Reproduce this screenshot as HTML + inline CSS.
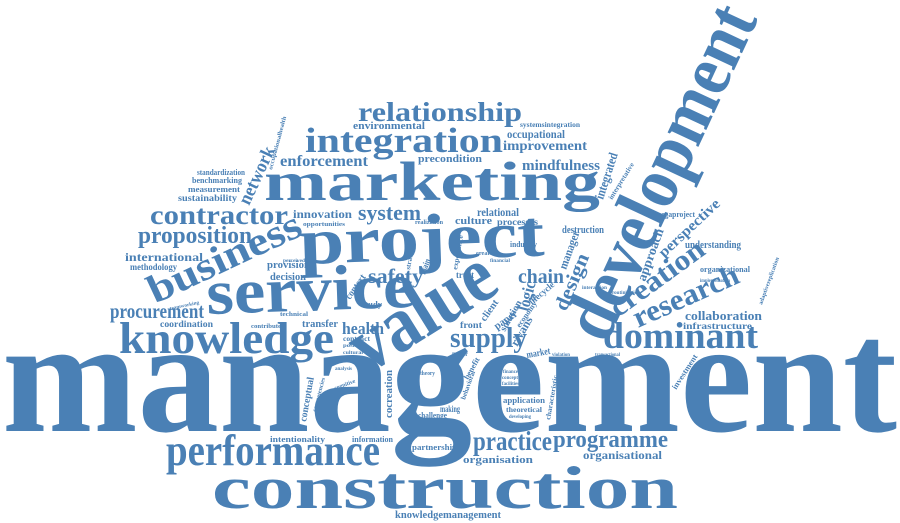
<!DOCTYPE html>
<html><head><meta charset="utf-8"><style>
html,body{margin:0;padding:0;background:#fff;width:900px;height:523px;overflow:hidden}
svg{display:block}
text{font-family:"Liberation Serif",serif;font-weight:bold;fill:#4a80b5}
</style></head><body>
<svg width="900" height="523" viewBox="0 0 900 523">
<text x="2" y="431" font-size="162" textLength="895" lengthAdjust="spacingAndGlyphs">management</text>
<text x="212" y="508" font-size="60" textLength="466" lengthAdjust="spacingAndGlyphs">construction</text>
<text x="166" y="465" font-size="44" textLength="214" lengthAdjust="spacingAndGlyphs">performance</text>
<text x="264" y="200" font-size="55" textLength="336" lengthAdjust="spacingAndGlyphs">marketing</text>
<text transform="translate(300,264) rotate(-2)" font-size="66" textLength="245" lengthAdjust="spacingAndGlyphs">project</text>
<text transform="translate(207,314) rotate(-2)" font-size="64" textLength="208" lengthAdjust="spacingAndGlyphs">service</text>
<text transform="translate(368,374) rotate(-32)" font-size="80" textLength="158" lengthAdjust="spacingAndGlyphs">value</text>
<text transform="translate(606,345) rotate(-65)" font-size="74" textLength="360" lengthAdjust="spacingAndGlyphs">development</text>
<text x="119" y="353" font-size="44" textLength="215" lengthAdjust="spacingAndGlyphs">knowledge</text>
<text transform="translate(155,304) rotate(-25)" font-size="40" textLength="165" lengthAdjust="spacingAndGlyphs">business</text>
<text x="305" y="152" font-size="35" textLength="198" lengthAdjust="spacingAndGlyphs">integration</text>
<text x="358" y="121" font-size="27" textLength="164" lengthAdjust="spacingAndGlyphs">relationship</text>
<text x="150" y="224" font-size="27" textLength="138" lengthAdjust="spacingAndGlyphs">contractor</text>
<text x="138" y="243" font-size="24" textLength="114" lengthAdjust="spacingAndGlyphs">proposition</text>
<text x="603" y="348" font-size="37" textLength="155" lengthAdjust="spacingAndGlyphs">dominant</text>
<text transform="translate(638,328) rotate(-24)" font-size="30" textLength="113" lengthAdjust="spacingAndGlyphs">research</text>
<text transform="translate(618,318) rotate(-36)" font-size="29" textLength="110" lengthAdjust="spacingAndGlyphs">creation</text>
<text x="450" y="347" font-size="29" textLength="77" lengthAdjust="spacingAndGlyphs">supply</text>
<text x="473" y="450" font-size="27" textLength="79" lengthAdjust="spacingAndGlyphs">practice</text>
<text x="553" y="447" font-size="24" textLength="115" lengthAdjust="spacingAndGlyphs">programme</text>
<text x="110" y="318" font-size="21" textLength="94" lengthAdjust="spacingAndGlyphs">procurement</text>
<text x="358" y="220" font-size="22" textLength="63" lengthAdjust="spacingAndGlyphs">system</text>
<text x="368" y="283" font-size="21" textLength="55" lengthAdjust="spacingAndGlyphs">safety</text>
<text x="518" y="283" font-size="20" textLength="46" lengthAdjust="spacingAndGlyphs">chain</text>
<text x="342" y="334" font-size="17" textLength="42" lengthAdjust="spacingAndGlyphs">health</text>
<text x="280" y="166" font-size="16" textLength="88" lengthAdjust="spacingAndGlyphs">enforcement</text>
<text x="522" y="170" font-size="15" textLength="78" lengthAdjust="spacingAndGlyphs">mindfulness</text>
<text x="503" y="150" font-size="14" textLength="84" lengthAdjust="spacingAndGlyphs">improvement</text>
<text x="507" y="138" font-size="12" textLength="58" lengthAdjust="spacingAndGlyphs">occupational</text>
<text transform="translate(249,206) rotate(-65)" font-size="19" textLength="62" lengthAdjust="spacingAndGlyphs">network</text>
<text x="125" y="261" font-size="12" textLength="78" lengthAdjust="spacingAndGlyphs">international</text>
<text x="130" y="270" font-size="9" textLength="47" lengthAdjust="spacingAndGlyphs">methodology</text>
<text x="685" y="320" font-size="13" textLength="77" lengthAdjust="spacingAndGlyphs">collaboration</text>
<text x="683" y="329" font-size="9" textLength="69" lengthAdjust="spacingAndGlyphs">infrastructure</text>
<text x="583" y="459" font-size="12" textLength="79" lengthAdjust="spacingAndGlyphs">organisational</text>
<text x="463" y="463" font-size="11" textLength="70" lengthAdjust="spacingAndGlyphs">organisation</text>
<text x="395" y="518" font-size="10" textLength="106" lengthAdjust="spacingAndGlyphs">knowledgemanagement</text>
<text x="412" y="450" font-size="8" textLength="45" lengthAdjust="spacingAndGlyphs">partnership</text>
<text x="352" y="442" font-size="8" textLength="41" lengthAdjust="spacingAndGlyphs">information</text>
<text x="270" y="442" font-size="8" textLength="55" lengthAdjust="spacingAndGlyphs">intentionality</text>
<text x="160" y="327" font-size="9" textLength="53" lengthAdjust="spacingAndGlyphs">coordination</text>
<text x="302" y="327" font-size="11" textLength="36" lengthAdjust="spacingAndGlyphs">transfer</text>
<text x="293" y="218" font-size="12" textLength="59" lengthAdjust="spacingAndGlyphs">innovation</text>
<text x="267" y="268" font-size="11" textLength="43" lengthAdjust="spacingAndGlyphs">provision</text>
<text x="270" y="280" font-size="10" textLength="36" lengthAdjust="spacingAndGlyphs">decision</text>
<text x="685" y="248" font-size="10" textLength="56" lengthAdjust="spacingAndGlyphs">understanding</text>
<text x="655" y="217" font-size="8" textLength="40" lengthAdjust="spacingAndGlyphs">megaproject</text>
<text x="700" y="272" font-size="8" textLength="50" lengthAdjust="spacingAndGlyphs">organizational</text>
<text transform="translate(664,258) rotate(-43)" font-size="15" textLength="78" lengthAdjust="spacingAndGlyphs">perspective</text>
<text transform="translate(645,282) rotate(-70)" font-size="13" textLength="55" lengthAdjust="spacingAndGlyphs">approach</text>
<text transform="translate(603,200) rotate(-72)" font-size="13" textLength="48" lengthAdjust="spacingAndGlyphs">integrated</text>
<text transform="translate(612,200) rotate(-58)" font-size="7" textLength="42" lengthAdjust="spacingAndGlyphs">interpretative</text>
<text x="562" y="233" font-size="10" textLength="42" lengthAdjust="spacingAndGlyphs">destruction</text>
<text x="477" y="216" font-size="12" textLength="42" lengthAdjust="spacingAndGlyphs">relational</text>
<text x="497" y="225" font-size="9" textLength="41" lengthAdjust="spacingAndGlyphs">processes</text>
<text x="418" y="162" font-size="10" textLength="64" lengthAdjust="spacingAndGlyphs">precondition</text>
<text x="455" y="224" font-size="11" textLength="37" lengthAdjust="spacingAndGlyphs">culture</text>
<text x="456" y="278" font-size="9" textLength="18" lengthAdjust="spacingAndGlyphs">trust</text>
<text x="353" y="129" font-size="10" textLength="72" lengthAdjust="spacingAndGlyphs">environmental</text>
<text x="520" y="127" font-size="7" textLength="60" lengthAdjust="spacingAndGlyphs">systemsintegration</text>
<text x="197" y="175" font-size="8" textLength="48" lengthAdjust="spacingAndGlyphs">standardization</text>
<text x="192" y="183" font-size="8" textLength="50" lengthAdjust="spacingAndGlyphs">benchmarking</text>
<text x="188" y="192" font-size="8" textLength="52" lengthAdjust="spacingAndGlyphs">measurement</text>
<text x="178" y="201" font-size="9" textLength="59" lengthAdjust="spacingAndGlyphs">sustainability</text>
<text transform="translate(272,170) rotate(-75)" font-size="6" textLength="55" lengthAdjust="spacingAndGlyphs">occupationalhealth</text>
<text transform="translate(566,312) rotate(-67)" font-size="20" textLength="60" lengthAdjust="spacingAndGlyphs">design</text>
<text transform="translate(528,312) rotate(-75)" font-size="17" textLength="30" lengthAdjust="spacingAndGlyphs">logic</text>
<text transform="translate(566,270) rotate(-70)" font-size="12" textLength="40" lengthAdjust="spacingAndGlyphs">manager</text>
<text transform="translate(517,347) rotate(-60)" font-size="12" textLength="32" lengthAdjust="spacingAndGlyphs">rivans</text>
<text transform="translate(532,305) rotate(-40)" font-size="9" textLength="30" lengthAdjust="spacingAndGlyphs">lifecycle</text>
<text transform="translate(505,332) rotate(-60)" font-size="10" textLength="34" lengthAdjust="spacingAndGlyphs">solution</text>
<text transform="translate(520,328) rotate(-55)" font-size="8" textLength="30" lengthAdjust="spacingAndGlyphs">economy</text>
<text transform="translate(485,322) rotate(-55)" font-size="10" textLength="24" lengthAdjust="spacingAndGlyphs">client</text>
<text transform="translate(497,330) rotate(-35)" font-size="11" textLength="26" lengthAdjust="spacingAndGlyphs">paper</text>
<text transform="translate(392,418) rotate(-90)" font-size="11" textLength="48" lengthAdjust="spacingAndGlyphs">cocreation</text>
<text transform="translate(306,422) rotate(-80)" font-size="10" textLength="45" lengthAdjust="spacingAndGlyphs">conceptual</text>
<text transform="translate(316,412) rotate(-75)" font-size="6" textLength="35" lengthAdjust="spacingAndGlyphs">competencies</text>
<text x="503" y="403" font-size="8" textLength="42" lengthAdjust="spacingAndGlyphs">application</text>
<text x="506" y="412" font-size="7" textLength="36" lengthAdjust="spacingAndGlyphs">theoretical</text>
<text x="509" y="418" font-size="5" textLength="22" lengthAdjust="spacingAndGlyphs">developing</text>
<text x="440" y="412" font-size="9" textLength="20" lengthAdjust="spacingAndGlyphs">making</text>
<text x="418" y="418" font-size="8" textLength="29" lengthAdjust="spacingAndGlyphs">challenge</text>
<text x="420" y="375" font-size="6" textLength="15" lengthAdjust="spacingAndGlyphs">theory</text>
<text x="503" y="373" font-size="5" textLength="15" lengthAdjust="spacingAndGlyphs">finance</text>
<text x="502" y="379" font-size="5" textLength="16" lengthAdjust="spacingAndGlyphs">concept</text>
<text x="502" y="385" font-size="5" textLength="17" lengthAdjust="spacingAndGlyphs">facilities</text>
<text transform="translate(527,358) rotate(-10)" font-size="10" textLength="24" lengthAdjust="spacingAndGlyphs">market</text>
<text x="452" y="356" font-size="7" textLength="16" lengthAdjust="spacingAndGlyphs">major</text>
<text x="460" y="328" font-size="9" textLength="22" lengthAdjust="spacingAndGlyphs">front</text>
<text x="343" y="341" font-size="7" textLength="27" lengthAdjust="spacingAndGlyphs">contract</text>
<text x="343" y="347" font-size="5" textLength="22" lengthAdjust="spacingAndGlyphs">positive</text>
<text x="343" y="354" font-size="5" textLength="20" lengthAdjust="spacingAndGlyphs">cultural</text>
<text x="362" y="307" font-size="8" textLength="20" lengthAdjust="spacingAndGlyphs">study</text>
<text x="280" y="316" font-size="6" textLength="28" lengthAdjust="spacingAndGlyphs">technical</text>
<text x="251" y="328" font-size="6" textLength="30" lengthAdjust="spacingAndGlyphs">contribute</text>
<text transform="translate(170,310) rotate(-12)" font-size="5" textLength="30" lengthAdjust="spacingAndGlyphs">teamworking</text>
<text x="283" y="262" font-size="5" textLength="22" lengthAdjust="spacingAndGlyphs">perceived</text>
<text x="303" y="226" font-size="6" textLength="42" lengthAdjust="spacingAndGlyphs">opportunities</text>
<text x="415" y="224" font-size="6" textLength="28" lengthAdjust="spacingAndGlyphs">realization</text>
<text transform="translate(350,300) rotate(-55)" font-size="10" textLength="28" lengthAdjust="spacingAndGlyphs">context</text>
<text transform="translate(410,270) rotate(-80)" font-size="7" textLength="25" lengthAdjust="spacingAndGlyphs">strategy</text>
<text transform="translate(425,275) rotate(-70)" font-size="9" textLength="16" lengthAdjust="spacingAndGlyphs">main</text>
<text transform="translate(457,270) rotate(-80)" font-size="7" textLength="35" lengthAdjust="spacingAndGlyphs">experience</text>
<text x="476" y="255" font-size="6" textLength="20" lengthAdjust="spacingAndGlyphs">created</text>
<text x="490" y="262" font-size="5" textLength="20" lengthAdjust="spacingAndGlyphs">financial</text>
<text x="510" y="247" font-size="8" textLength="27" lengthAdjust="spacingAndGlyphs">industry</text>
<text x="335" y="370" font-size="5" textLength="17" lengthAdjust="spacingAndGlyphs">analysis</text>
<text transform="translate(335,390) rotate(-20)" font-size="6" textLength="22" lengthAdjust="spacingAndGlyphs">cognitive</text>
<text transform="translate(468,380) rotate(-60)" font-size="8" textLength="24" lengthAdjust="spacingAndGlyphs">benefit</text>
<text transform="translate(465,400) rotate(-70)" font-size="7" textLength="30" lengthAdjust="spacingAndGlyphs">behavioral</text>
<text transform="translate(550,420) rotate(-80)" font-size="7" textLength="45" lengthAdjust="spacingAndGlyphs">characteristic</text>
<text transform="translate(676,390) rotate(-57)" font-size="8" textLength="40" lengthAdjust="spacingAndGlyphs">investment</text>
<text transform="translate(762,305) rotate(-70)" font-size="6" textLength="50" lengthAdjust="spacingAndGlyphs">adaptivereplication</text>
<text x="700" y="282" font-size="5" textLength="30" lengthAdjust="spacingAndGlyphs">implementation</text>
<text x="582" y="289" font-size="5" textLength="25" lengthAdjust="spacingAndGlyphs">interaction</text>
<text x="612" y="294" font-size="5" textLength="28" lengthAdjust="spacingAndGlyphs">routinization</text>
<text x="595" y="356" font-size="5" textLength="25" lengthAdjust="spacingAndGlyphs">transactional</text>
<text x="552" y="356" font-size="5" textLength="18" lengthAdjust="spacingAndGlyphs">violation</text>
</svg>
</body></html>
